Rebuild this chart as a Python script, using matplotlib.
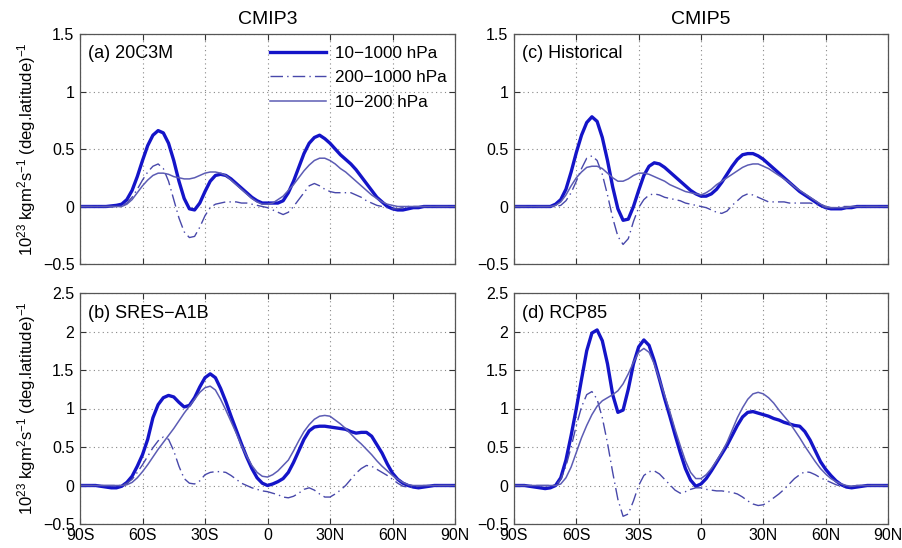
import numpy as np
import matplotlib
matplotlib.use("Agg")
import matplotlib.pyplot as plt
from matplotlib.ticker import FixedLocator, FuncFormatter

plt.rcParams['font.family'] = ['Liberation Sans', 'DejaVu Sans']
plt.rcParams['mathtext.fontset'] = 'custom'
plt.rcParams['mathtext.rm'] = 'Liberation Sans'
plt.rcParams['mathtext.it'] = 'Liberation Sans:italic'
plt.rcParams['mathtext.bf'] = 'Liberation Sans:bold'

# latitude grid (deg), -90 .. 90 every 2.5 deg
lat = np.arange(-90, 90.01, 2.5)

Z8 = [0, 0, 0, 0, 0, 0, 0, 0]
Z6 = [0, 0, 0, 0, 0, 0]

# ---- (a) CMIP3 20C3M ----
a_10_1000 = [0, 0, 0, 0, 0, 0, 0.005, 0.01,
             0.02, 0.06, 0.14, 0.26, 0.40, 0.53, 0.62, 0.66, 0.64, 0.55,
             0.40, 0.22, 0.07, -0.02, -0.03, 0.03, 0.13, 0.22, 0.27, 0.28,
             0.27, 0.24, 0.20, 0.16, 0.12, 0.08, 0.05, 0.03, 0.03, 0.03,
             0.03, 0.05, 0.12, 0.22, 0.34, 0.46, 0.55, 0.60, 0.62, 0.59,
             0.55, 0.50, 0.45, 0.41, 0.37, 0.32, 0.26, 0.20, 0.14, 0.08,
             0.04, 0.0, -0.02, -0.03, -0.03, -0.02, -0.01, -0.01, 0] + Z6
a_200_1000 = Z8 + [0.0, 0.03, 0.08, 0.15, 0.23, 0.30, 0.35, 0.37, 0.33, 0.22,
                   0.06, -0.10, -0.22, -0.27, -0.26, -0.18, -0.08, -0.01, 0.02, 0.03,
                   0.04, 0.04, 0.04, 0.03, 0.03, 0.02, 0.01, 0.0, -0.01, -0.03,
                   -0.05, -0.07, -0.05, 0.0, 0.06, 0.12, 0.18, 0.20, 0.18, 0.15,
                   0.13, 0.12, 0.12, 0.12, 0.12, 0.10, 0.08, 0.05, 0.03, 0.01,
                   0.0, -0.01, -0.02, -0.02, -0.01, 0, 0, 0, 0] + Z6
a_10_200 = Z8 + [0.0, 0.02, 0.06, 0.12, 0.18, 0.23, 0.27, 0.29, 0.29, 0.28,
                 0.26, 0.25, 0.24, 0.24, 0.25, 0.27, 0.29, 0.30, 0.30, 0.29,
                 0.27, 0.23, 0.19, 0.15, 0.11, 0.07, 0.04, 0.02, 0.02, 0.03,
                 0.06, 0.09, 0.14, 0.19, 0.25, 0.31, 0.36, 0.40, 0.42, 0.42,
                 0.40, 0.37, 0.33, 0.30, 0.26, 0.22, 0.18, 0.14, 0.10, 0.07,
                 0.04, 0.02, 0.01, 0.0, 0.0, 0, 0, 0, 0] + Z6

# ---- (b) CMIP3 SRES-A1B ----
b_10_1000 = [0, 0, 0, 0, -0.01, -0.02, -0.03, -0.03,
             -0.01, 0.04, 0.12, 0.25, 0.40, 0.60, 0.88, 1.05, 1.14, 1.17,
             1.15, 1.08, 1.02, 1.04, 1.14, 1.28, 1.40, 1.45, 1.40, 1.26,
             1.09, 0.90, 0.72, 0.54, 0.37, 0.22, 0.10, 0.03, 0.0, 0.02,
             0.05, 0.09, 0.17, 0.30, 0.45, 0.60, 0.71, 0.76, 0.77, 0.77,
             0.76, 0.75, 0.74, 0.73, 0.70, 0.68, 0.69, 0.69, 0.64, 0.53,
             0.42, 0.28, 0.16, 0.08, 0.03, 0.0, -0.02, -0.03, -0.02,
             -0.01, 0, 0, 0, 0, 0]
b_200_1000 = Z8 + [0.0, 0.03, 0.08, 0.17, 0.27, 0.38, 0.49, 0.58, 0.63, 0.60,
                   0.45, 0.25, 0.09, 0.03, 0.02, 0.06, 0.14, 0.17, 0.18, 0.18,
                   0.17, 0.13, 0.08, 0.03, 0.0, -0.03, -0.05, -0.07, -0.08, -0.10,
                   -0.12, -0.15, -0.16, -0.14, -0.10, -0.05, -0.03, -0.06, -0.11, -0.15,
                   -0.15, -0.11, -0.06, 0.0, 0.08, 0.16, 0.22, 0.26, 0.25, 0.21,
                   0.17, 0.13, 0.08, 0.03, -0.01, -0.02, -0.02, -0.01, 0] + Z6
b_10_200 = Z8 + [0.0, 0.01, 0.04, 0.10, 0.18, 0.27, 0.37, 0.47, 0.56, 0.65,
                 0.74, 0.84, 0.94, 1.03, 1.12, 1.21, 1.27, 1.29, 1.24, 1.12,
                 0.98, 0.83, 0.68, 0.52, 0.38, 0.26, 0.17, 0.12, 0.11, 0.14,
                 0.19, 0.26, 0.33, 0.45, 0.58, 0.70, 0.79, 0.86, 0.90, 0.91,
                 0.90, 0.85, 0.80, 0.74, 0.67, 0.60, 0.54, 0.47, 0.40, 0.32,
                 0.25, 0.19, 0.13, 0.08, 0.04, 0.01, 0.0, 0, 0] + Z6

# ---- (c) CMIP5 Historical ----
c_10_1000 = Z8 + [0.02, 0.06, 0.15, 0.30, 0.47, 0.62, 0.73, 0.78, 0.74, 0.60,
                  0.40, 0.17, -0.02, -0.12, -0.11, 0.0, 0.14, 0.27, 0.35, 0.38,
                  0.37, 0.34, 0.30, 0.26, 0.22, 0.18, 0.14, 0.11, 0.09, 0.09,
                  0.11, 0.15, 0.21, 0.28, 0.35, 0.41, 0.45, 0.46, 0.46, 0.44,
                  0.41, 0.37, 0.33, 0.29, 0.25, 0.21, 0.17, 0.13, 0.10, 0.07,
                  0.04, 0.01, -0.01, -0.02, -0.02, -0.02, -0.01, -0.01, 0] + Z6
c_200_1000 = Z8 + [0.0, 0.01, 0.05, 0.12, 0.22, 0.33, 0.42, 0.44, 0.40, 0.28,
                   0.10, -0.10, -0.26, -0.33, -0.28, -0.13, -0.01, 0.06, 0.10, 0.11,
                   0.10, 0.08, 0.07, 0.06, 0.05, 0.03, 0.02, 0.01, 0.0, -0.01,
                   -0.03, -0.05, -0.06, -0.04, 0.01, 0.05, 0.09, 0.11, 0.10, 0.08,
                   0.06, 0.04, 0.04, 0.04, 0.04, 0.03, 0.03, 0.03, 0.03, 0.03,
                   0.02, 0.01, -0.01, -0.01, -0.01, 0, 0, 0, 0] + Z6
c_10_200 = Z8 + [0.01, 0.04, 0.10, 0.18, 0.25, 0.30, 0.34, 0.35, 0.35, 0.33,
                 0.29, 0.25, 0.22, 0.22, 0.24, 0.27, 0.29, 0.29, 0.28, 0.26,
                 0.24, 0.22, 0.19, 0.17, 0.15, 0.13, 0.12, 0.11, 0.10, 0.12,
                 0.15, 0.19, 0.22, 0.25, 0.28, 0.31, 0.34, 0.36, 0.37, 0.37,
                 0.35, 0.33, 0.30, 0.27, 0.24, 0.21, 0.17, 0.14, 0.11, 0.08,
                 0.05, 0.02, 0.0, -0.01, -0.01, -0.01, -0.01, 0, 0] + Z6

# ---- (d) CMIP5 RCP85 ----
d_10_1000 = [0, 0, 0, -0.01, -0.02, -0.03, -0.04, -0.03,
             0.0, 0.10, 0.33, 0.65, 1.00, 1.38, 1.75, 1.98, 2.02, 1.88,
             1.58, 1.18, 0.95, 0.98, 1.25, 1.58, 1.80, 1.89, 1.82, 1.62,
             1.38, 1.13, 0.90, 0.66, 0.43, 0.22, 0.07, -0.01, 0.02, 0.09,
             0.19, 0.30, 0.41, 0.52, 0.65, 0.78, 0.89, 0.95, 0.96, 0.94,
             0.92, 0.90, 0.87, 0.85, 0.82, 0.80, 0.78, 0.77, 0.70, 0.59,
             0.45, 0.31, 0.21, 0.13, 0.06, 0.01, -0.02, -0.03, -0.02,
             -0.01, 0, 0, 0, 0, 0]
d_200_1000 = Z8 + [0.0, 0.08, 0.25, 0.50, 0.78, 1.02, 1.18, 1.22, 1.12, 0.88,
                   0.55, 0.17, -0.18, -0.40, -0.37, -0.20, 0.0, 0.13, 0.18, 0.19,
                   0.15, 0.08, 0.01, -0.06, -0.10, -0.08, -0.05, -0.03, -0.03, -0.05,
                   -0.06, -0.07, -0.07, -0.08, -0.09, -0.11, -0.15, -0.20, -0.24, -0.26,
                   -0.25, -0.21, -0.16, -0.11, -0.05, 0.02, 0.09, 0.14, 0.18, 0.17,
                   0.14, 0.10, 0.07, 0.04, 0.01, -0.01, -0.02, -0.01, 0] + Z6
d_10_200 = Z8 + [0.0, 0.02, 0.10, 0.24, 0.43, 0.62, 0.78, 0.92, 1.03, 1.10,
                 1.14, 1.18, 1.23, 1.32, 1.45, 1.60, 1.73, 1.78, 1.73, 1.58,
                 1.38, 1.17, 0.96, 0.73, 0.52, 0.32, 0.17, 0.09, 0.09, 0.14,
                 0.22, 0.32, 0.43, 0.56, 0.72, 0.88, 1.01, 1.12, 1.19, 1.21,
                 1.19, 1.14, 1.07, 0.98, 0.90, 0.82, 0.72, 0.62, 0.51, 0.41,
                 0.31, 0.22, 0.15, 0.09, 0.05, 0.02, 0.0, -0.01, 0] + Z6

panel_labels = ['(a) 20C3M', '(b) SRES\u2212A1B', '(c) Historical', '(d) RCP85']
col_titles = ['CMIP3', 'CMIP5']
legend_labels = ['10\u22121000 hPa', '200\u22121000 hPa', '10\u2212200 hPa']
ylabel_text = '10$^{23}$ kgm$^{2}$s$^{-1}$ (deg.latitude)$^{-1}$'
xticks = [-90, -60, -30, 0, 30, 60, 90]
xticklabels = ['90S', '60S', '30S', '0', '30N', '60N', '90N']
yticks_top = [-0.5, 0, 0.5, 1, 1.5]
yticks_bot = [-0.5, 0, 0.5, 1, 1.5, 2, 2.5]

data = {
    (0, 0): (a_10_1000, a_200_1000, a_10_200),
    (1, 0): (b_10_1000, b_200_1000, b_10_200),
    (0, 1): (c_10_1000, c_200_1000, c_10_200),
    (1, 1): (d_10_1000, d_200_1000, d_10_200),
}
labels = {(0, 0): panel_labels[0], (1, 0): panel_labels[1],
          (0, 1): panel_labels[2], (1, 1): panel_labels[3]}

thick_col = '#1414c8'
thin_col = '#5c5cb4'
dash_col = '#4848aa'

W, H = 903, 548
fig = plt.figure(figsize=(W / 100, H / 100), dpi=100)

lefts = [80, 514]
widths = [375, 374]
tops = [34, 293]
heights = [230, 231]

def fmt(v, pos):
    s = ('%g' % v)
    return s.replace('-', '\u2212')

for r in range(2):
    for c in range(2):
        ax = fig.add_axes([lefts[c] / W, 1 - (tops[r] + heights[r]) / H,
                           widths[c] / W, heights[r] / H])
        s1, s2, s3 = data[(r, c)]
        l1, = ax.plot(lat, s1, color=thick_col, lw=2.4, solid_joinstyle='round')
        l2, = ax.plot(lat, s2, color=dash_col, lw=1.0, linestyle=(0, (9, 3, 1, 3)))
        l3, = ax.plot(lat, s3, color=thin_col, lw=1.1)
        ax.set_xlim(-90, 90)
        if r == 0:
            ax.set_ylim(-0.5, 1.5)
            ax.yaxis.set_major_locator(FixedLocator(yticks_top))
        else:
            ax.set_ylim(-0.5, 2.5)
            ax.yaxis.set_major_locator(FixedLocator(yticks_bot))
        ax.yaxis.set_major_formatter(FuncFormatter(fmt))
        ax.set_xticks(xticks)
        if r == 1:
            ax.set_xticklabels(xticklabels)
        else:
            ax.set_xticklabels([])
        ax.tick_params(direction='in', top=True, right=True, length=4,
                       width=0.8, labelsize=11.5, colors='#333333',
                       labelcolor='black')
        ax.tick_params(axis='x', pad=3)
        ax.tick_params(axis='y', pad=4)
        ax.grid(True, linestyle=(0, (1, 3)), color='#888888', lw=0.8)
        for sp in ax.spines.values():
            sp.set_color('#555555')
            sp.set_linewidth(0.9)
        ax.text(0.022, 0.95, labels[(r, c)], transform=ax.transAxes,
                fontsize=13, va='top', ha='left')
        if r == 0:
            ax.set_title(col_titles[c], fontsize=14, pad=7)
        if c == 0:
            fig.text(27 / W, 1 - (tops[r] + heights[r] / 2) / H, ylabel_text,
                     rotation=90, ha='center', va='center', fontsize=12)
        if r == 0 and c == 0:
            ax.legend([l1, l2, l3], legend_labels, loc='upper right',
                      bbox_to_anchor=(1.0, 0.985),
                      frameon=False, fontsize=12.3, handlelength=3.3,
                      handletextpad=0.5, labelspacing=0.55,
                      borderaxespad=0.2, borderpad=0.3)

fig.savefig('out.png', dpi=100)
